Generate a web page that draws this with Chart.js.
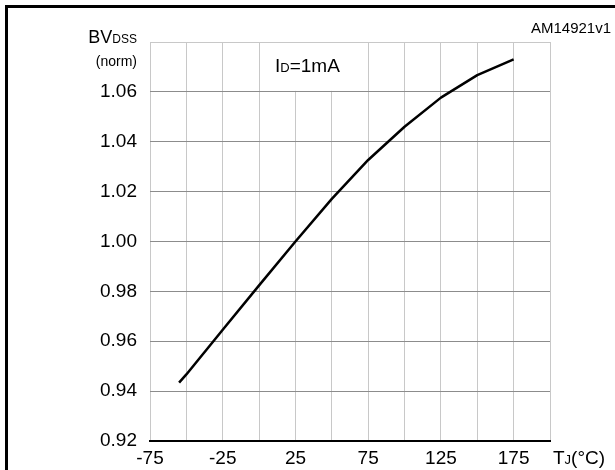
<!DOCTYPE html>
<html>
<head>
<meta charset="utf-8">
<script src="https://cdn.jsdelivr.net/npm/chart.js@4/dist/chart.umd.min.js"></script>
<style>
  html, body { margin: 0; padding: 0; background: #fff; }
  #wrap { position: relative; width: 615px; height: 470px; overflow: hidden; }
  #frame {
    position: absolute; left: 5px; top: 5px; width: 700px; height: 600px;
    border-left: 3px solid #000; border-top: 3px solid #000; pointer-events: none;
  }
</style>
</head>
<body>
<div id="wrap">
  <canvas id="bvChart" width="615" height="470"></canvas>
  <div id="frame"></div>
</div>
<script>
// Dati
const tempC = [-55, -50, -25, 0, 25, 50, 75, 100, 125, 150, 175];
const bvNorm = [0.9434, 0.9467, 0.9646, 0.9824, 1.000, 1.0171, 1.0327, 1.046, 1.0577, 1.0667, 1.073];
const xLabels = [-75, -25, 25, 75, 125, 175];
const yLabels = [0.92, 0.94, 0.96, 0.98, 1.00, 1.02, 1.04, 1.06];

const FONT = '"Liberation Sans", Arial, sans-serif';

// Testi fuori dagli assi: titolo asse, condizione, codice figura
const labelsPlugin = {
    id: 'labels',
    beforeDatasetsDraw(chart) {
        const { ctx, scales: { x, y } } = chart;
        // riquadro bianco dietro "ID=1mA"
        ctx.save();
        ctx.fillStyle = '#fff';
        const l = x.getPixelForValue(0) + 1, r = x.getPixelForValue(75) - 1;
        const t = y.getPixelForValue(1.08) + 1, b = y.getPixelForValue(1.06) - 1;
        ctx.fillRect(l, t, r - l, b - t);
        ctx.restore();
    },
    afterDraw(chart) {
        const { ctx, chartArea } = chart;
        ctx.save();
        ctx.fillStyle = '#000';
        ctx.textBaseline = 'alphabetic';

        // BVDSS (norm)
        const right = chartArea.left - 13;
        ctx.textAlign = 'right';
        ctx.font = '12px ' + FONT;
        const dssW = ctx.measureText('DSS').width;
        ctx.fillText('DSS', right, 43);
        ctx.font = '18px ' + FONT;
        ctx.fillText('BV', right - dssW, 43);
        ctx.font = '14px ' + FONT;
        ctx.fillText('(norm)', right, 66);

        // ID=1mA
        ctx.textAlign = 'left';
        let px = 275;
        const py = 71.5;
        ctx.font = '19px ' + FONT;
        ctx.fillText('I', px, py);
        px += ctx.measureText('I').width;
        ctx.font = '13px ' + FONT;
        ctx.fillText('D', px, py);
        px += ctx.measureText('D').width;
        ctx.font = '19px ' + FONT;
        ctx.fillText('=1mA', px, py);

        // TJ(°C)
        px = chartArea.right + 3;
        const ty = 464;
        ctx.font = '19px ' + FONT;
        ctx.fillText('T', px, ty);
        px += ctx.measureText('T').width;
        ctx.font = '13px ' + FONT;
        ctx.fillText('J', px, ty);
        px += ctx.measureText('J').width;
        ctx.font = '19px ' + FONT;
        ctx.fillText('(°C)', px, ty);

        // codice figura
        ctx.textAlign = 'right';
        ctx.font = '15px ' + FONT;
        ctx.fillText('AM14921v1', 611, 33);
        ctx.restore();
    }
};

const ctx = document.getElementById('bvChart').getContext('2d');
const bvChart = new Chart(ctx, {
    type: 'line',
    data: {
        datasets: [{
            data: tempC.map((t, i) => ({ x: t, y: bvNorm[i] })),
            borderColor: '#000',
            borderWidth: 2.5,
            pointRadius: 0,
            tension: 0,
            borderJoinStyle: 'round',
            fill: false
        }]
    },
    options: {
        responsive: false,
        animation: false,
        devicePixelRatio: 1,
        layout: { padding: { top: 42, right: 65, left: 0, bottom: 0 } },
        plugins: { legend: { display: false }, tooltip: { enabled: false } },
        scales: {
            x: {
                type: 'linear',
                min: -75,
                max: 200,
                afterFit: s => { s.height = 29; },
                afterBuildTicks: s => {
                    s.ticks = [];
                    for (let v = -75; v <= 200; v += 25) s.ticks.push({ value: v });
                },
                ticks: {
                    autoSkip: false,
                    maxRotation: 0,
                    padding: 6,
                    color: '#000',
                    font: { family: FONT, size: 19 },
                    callback: v => xLabels.includes(v) ? String(v) : ''
                },
                grid: { color: '#c8c8c8', lineWidth: 1, drawTicks: false },
                border: { display: true, color: '#000', width: 2 }
            },
            y: {
                min: 0.92,
                max: 1.08,
                afterFit: s => { s.width = 150; },
                afterBuildTicks: s => {
                    s.ticks = yLabels.concat([1.08]).map(v => ({ value: v }));
                },
                ticks: {
                    padding: 13,
                    color: '#000',
                    font: { family: FONT, size: 19 },
                    callback: v => yLabels.some(l => Math.abs(l - v) < 1e-6) ? v.toFixed(2) : ''
                },
                grid: {
                    drawTicks: false,
                    lineWidth: 1,
                    color: c => (c.tick && Math.abs(c.tick.value - 1.08) < 1e-6) ? '#c8c8c8' : '#8c8c8c'
                },
                border: { display: false }
            }
        }
    },
    plugins: [labelsPlugin]
});
</script>
</body>
</html>
